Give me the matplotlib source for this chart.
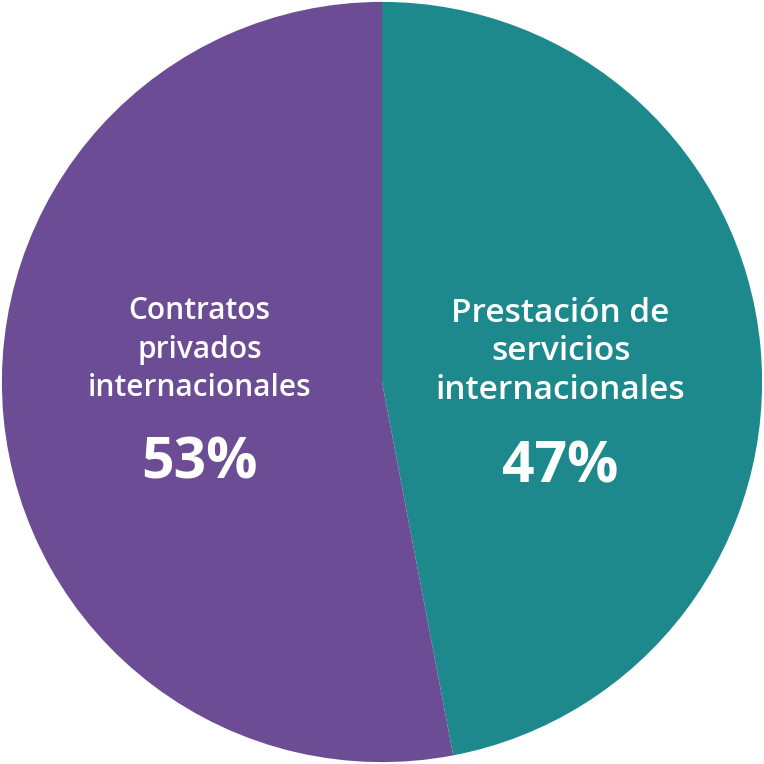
import matplotlib
matplotlib.use("Agg")
import matplotlib.pyplot as plt

labels = ["Prestación de\nservicios\ninternacionales", "Contratos\nprivados\ninternacionales"]
values = [47, 53]
colors = ["#1e898c", "#6c4c94"]

fig = plt.figure(figsize=(7.64, 7.64), dpi=100)
ax = fig.add_axes([0, 0, 1, 1])
ax.pie(values, colors=colors, startangle=90, counterclock=False,
       radius=1.0, center=(0, 0), wedgeprops=dict(linewidth=0))
ax.set_xlim(-1.005, 1.005)
ax.set_ylim(-1.005, 1.005)
ax.set_aspect("equal")
ax.axis("off")

# label positions (data coords) for each slice
lab_xy = [(0.47, 0.08), (-0.48, 0.085)]
pct_xy = [(0.47, -0.225), (-0.48, -0.215)]
lab_size = [24, 21.5]
lab_space = [1.22, 1.38]
for lab, v, (lx, ly), (px, py), fs, ls in zip(labels, values, lab_xy, pct_xy, lab_size, lab_space):
    ax.text(lx, ly, lab, ha="center", va="center", color="white", fontsize=fs,
            fontweight="semibold", family="Open Sans", linespacing=ls)
    ax.text(px, py, f"{v}%", ha="center", va="center", color="white", fontsize=41,
            fontweight="bold", family="Open Sans")

fig.savefig("out.png", dpi=100, facecolor="white")
